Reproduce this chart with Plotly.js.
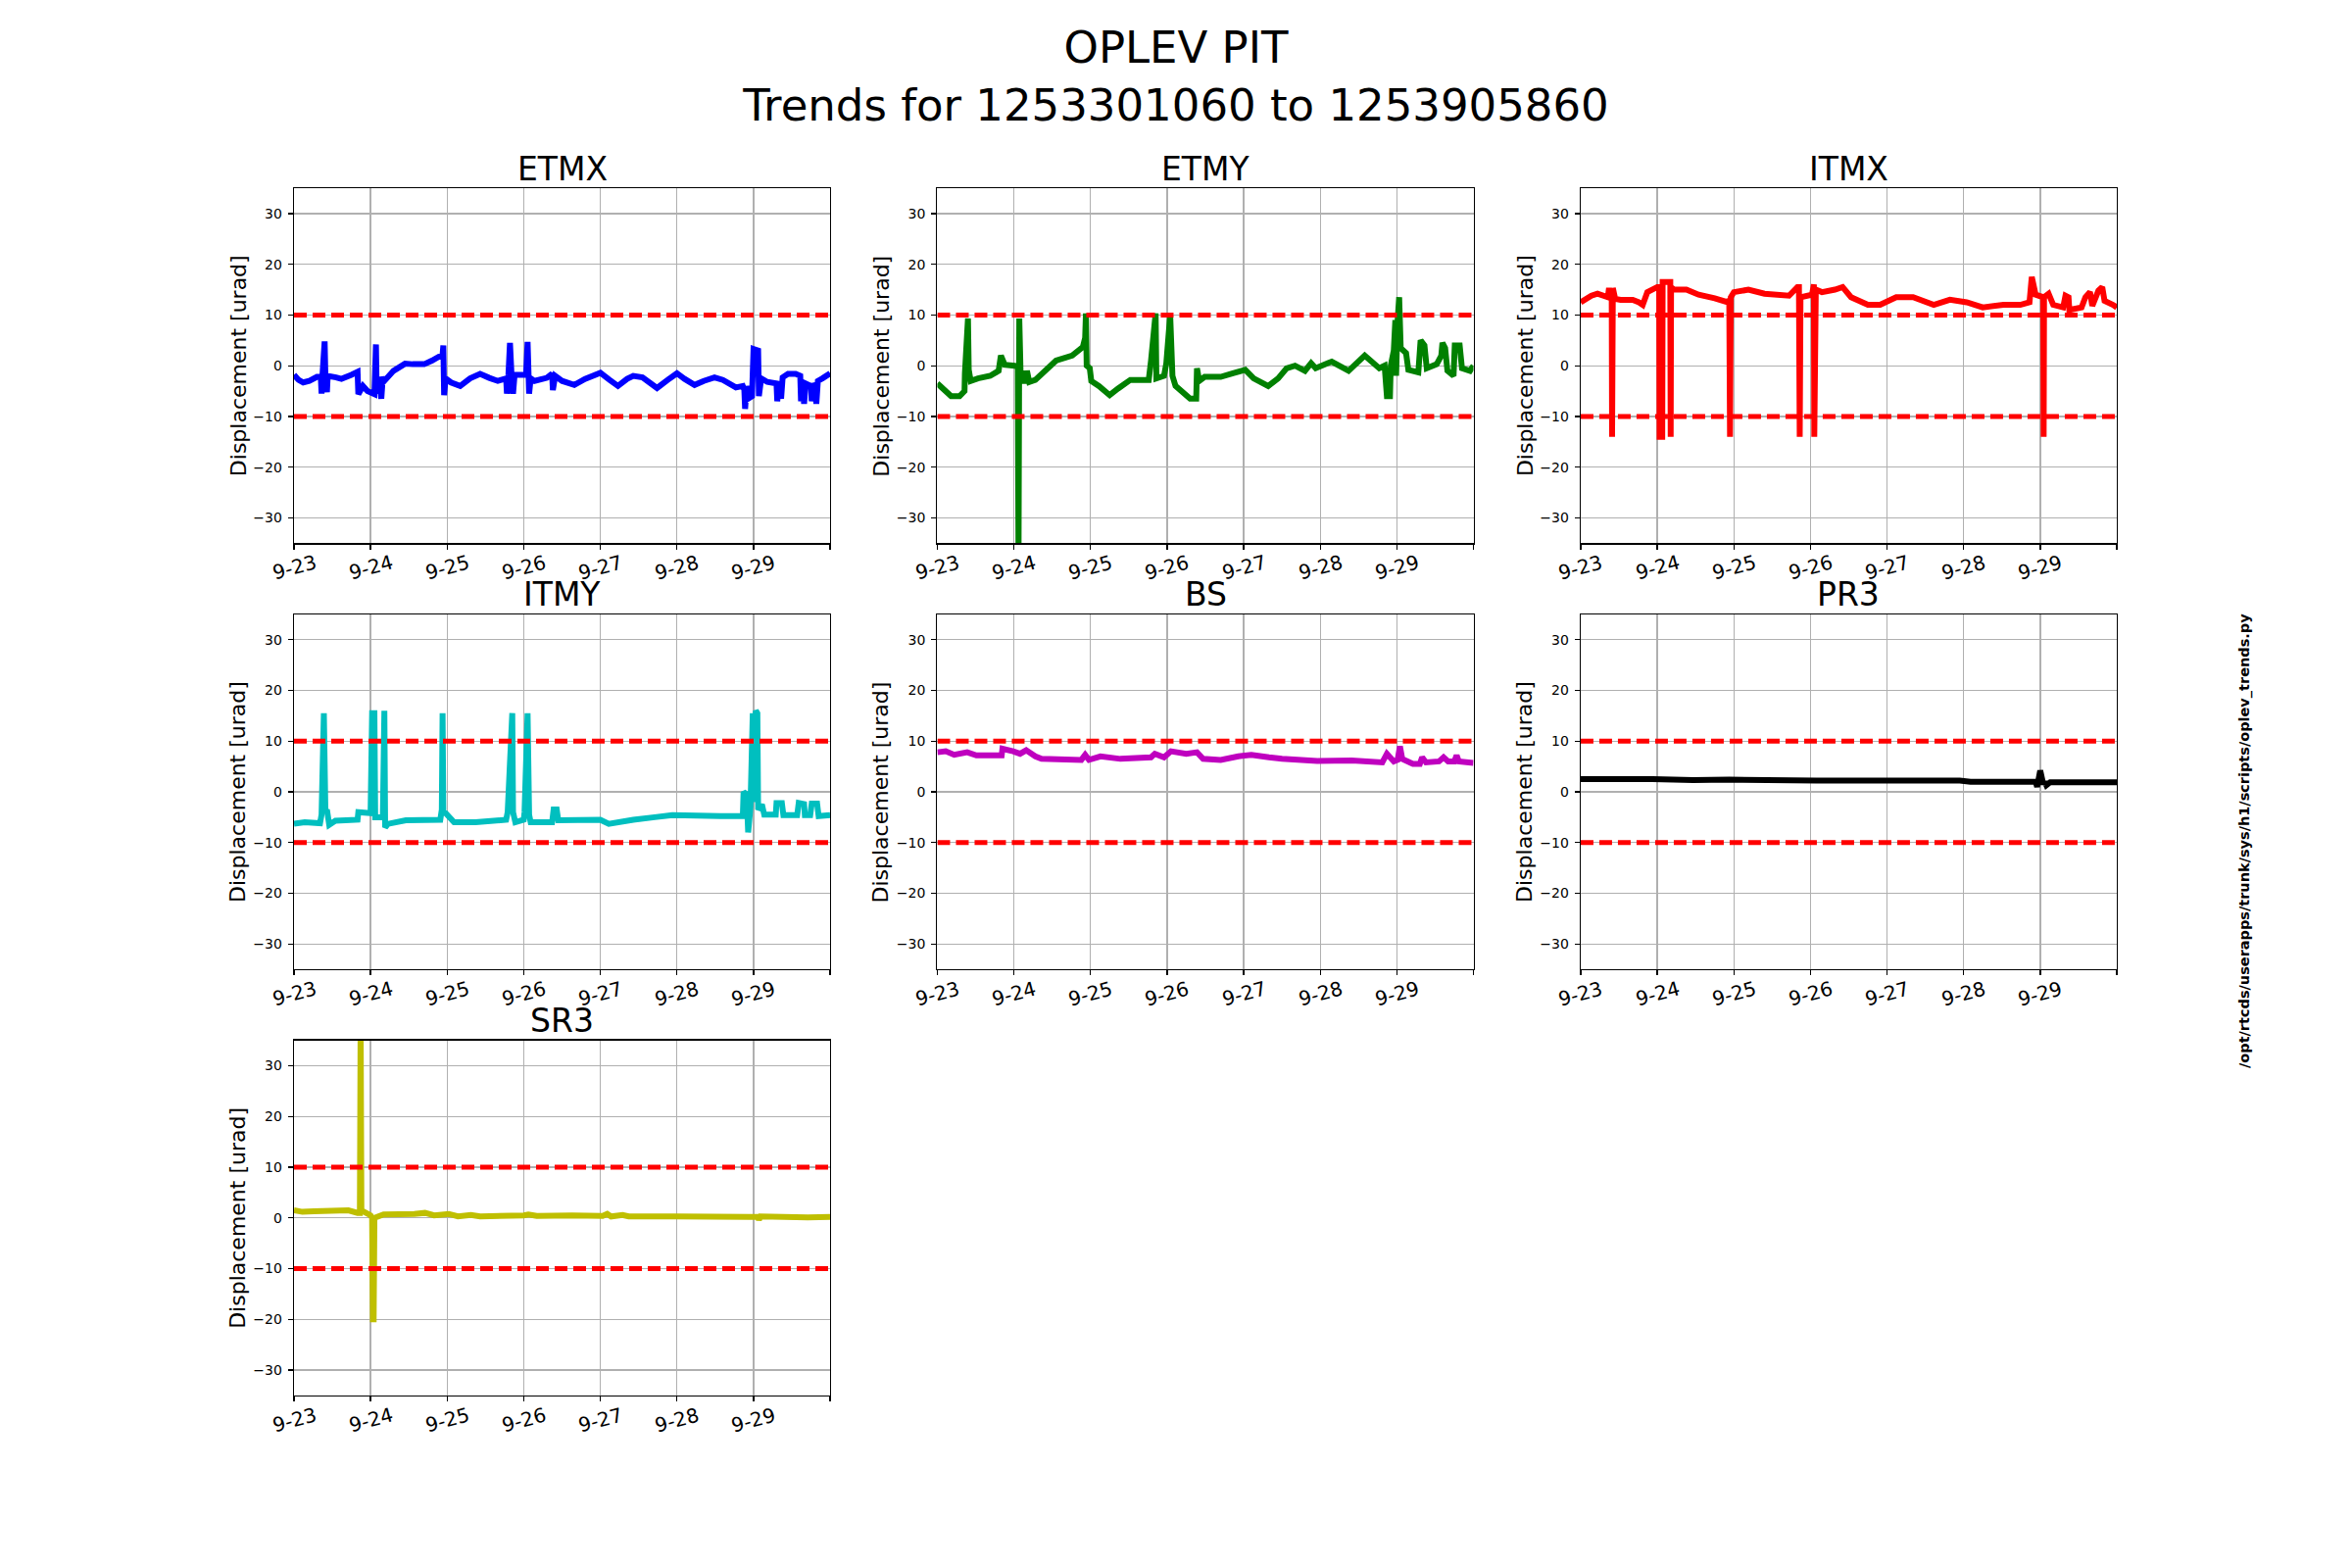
<!DOCTYPE html>
<html>
<head>
<meta charset="utf-8">
<script src="https://cdn.plot.ly/plotly-3.0.1.min.js"></script>
<style>
  body { margin: 0; background: #fff; }
  #chart { width: 2400px; height: 1600px; }
</style>
</head>
<body>
<div id="chart"></div>
<script>
// days since 9-23 00:00
var etmxDay = [0,0.06,0.12,0.2,0.3,0.35,0.36,0.37,0.4,0.41,0.43,0.44,0.55,0.62,0.75,0.83,0.84,0.9,0.96,1.05,1.07,1.08,1.11,1.14,1.16,1.18,1.3,1.45,1.55,1.7,1.8,1.94,1.95,1.96,1.98,2.05,2.17,2.3,2.43,2.55,2.66,2.77,2.78,2.8,2.82,2.84,2.86,2.88,3.03,3.05,3.07,3.09,3.14,3.3,3.37,3.38,3.41,3.5,3.66,3.8,4.0,4.12,4.23,4.35,4.43,4.55,4.74,4.88,5.0,5.1,5.23,5.35,5.49,5.6,5.77,5.86,5.88,5.89,5.91,5.93,5.98,6.0,6.06,6.07,6.1,6.18,6.3,6.31,6.33,6.36,6.38,6.45,6.55,6.61,6.62,6.64,6.66,6.68,6.75,6.76,6.78,6.8,6.82,6.84,6.9,7.0];
var etmxPit = [-1.8,-2.8,-3.3,-3.0,-2.2,-2.2,-5.5,-2.2,4.8,-2.2,-5.2,-2.0,-2.3,-2.6,-1.8,-1.2,-5.6,-4.0,-5.0,-5.6,4.2,-5.5,-2.2,-6.5,-2.2,-3.0,-1.0,0.4,0.3,0.3,1.0,2.2,4.0,-5.8,-2.5,-3.3,-4.0,-2.5,-1.6,-2.4,-3.0,-2.5,-5.5,-1.8,4.5,-1.8,-5.5,-1.8,-1.8,4.7,-5.5,-2.5,-3.0,-2.4,-1.6,-4.8,-2.0,-3.0,-3.8,-2.6,-1.4,-2.8,-4.0,-2.6,-2.0,-2.3,-4.4,-2.8,-1.5,-2.6,-3.8,-3.0,-2.3,-2.8,-4.3,-4.0,-4.8,-8.5,-4.0,-6.5,-6.0,3.3,3.0,-6.0,-2.5,-3.2,-3.5,-7.0,-3.5,-6.5,-2.3,-1.6,-1.6,-2.0,-7.0,-3.5,-7.5,-3.5,-4.0,-7.0,-3.5,-4.0,-7.5,-3.0,-2.5,-1.5];

var etmyDay = [0,0.18,0.29,0.355,0.36,0.4,0.41,0.435,0.53,0.69,0.8,0.83,0.88,1.01,1.05,1.06,1.07,1.09,1.12,1.145,1.17,1.2,1.28,1.55,1.76,1.9,1.93,1.94,1.95,1.99,2.01,2.11,2.25,2.36,2.52,2.76,2.79,2.85,2.86,2.96,2.99,3.04,3.07,3.11,3.3,3.38,3.39,3.42,3.49,3.7,3.86,4.02,4.13,4.32,4.45,4.56,4.67,4.8,4.88,4.94,5.1,5.15,5.37,5.58,5.77,5.84,5.87,5.91,5.92,5.96,5.98,5.99,6.01,6.03,6.05,6.12,6.15,6.28,6.31,6.36,6.39,6.52,6.58,6.595,6.63,6.66,6.74,6.756,6.82,6.85,6.955,7.0];
var etmyPit = [-3.5,-6,-6,-5,-1.5,9.3,-0.8,-3,-2.5,-2,-1,2,0.2,0,-0.3,-40,9.3,-3.5,-1,-3.5,-1,-3.2,-2.8,1,2,3.7,5.5,10.3,0,-0.5,-3,-4,-5.8,-4.5,-2.8,-2.8,1,10.3,-2.5,-2,0.5,10,-2,-4,-6.5,-6.5,-0.5,-3,-2.2,-2.2,-1.5,-0.8,-2.5,-4,-2.5,-0.5,0,-1,0.5,-0.5,0.5,0.8,-1,2,-0.5,0,-6,-6,0,3,9,-2,9,13.5,3.5,2.5,-0.8,-1.3,5,4,-0.5,0.3,2,4.5,3.5,-1,-2,4,4,-0.5,-1,0];

var itmxDay = [0,0.14,0.22,0.355,0.37,0.39,0.405,0.41,0.42,0.45,0.52,0.68,0.76,0.81,0.87,1.0,1.025,1.03,1.065,1.07,1.11,1.17,1.175,1.18,1.22,1.38,1.54,1.75,1.92,1.94,1.95,1.96,2.0,2.19,2.4,2.72,2.83,2.85,2.86,2.87,3.02,3.045,3.05,3.07,3.15,3.32,3.42,3.53,3.75,3.91,4.12,4.34,4.61,4.82,5.04,5.25,5.52,5.74,5.86,5.89,5.94,6.04,6.045,6.05,6.11,6.17,6.3,6.33,6.37,6.38,6.54,6.59,6.65,6.68,6.76,6.81,6.84,6.95,7.0];
var itmxPit = [12.5,13.8,14.2,13.5,15.3,13.2,15.3,-14,15.3,13.2,13,13,12.5,12,14.5,15.5,15.5,-14,-14,16.5,16.5,16.5,-14,15.5,15,15,14,13.3,12.5,13,-14,13.5,14.5,15,14.2,13.8,15.5,15.5,-14,13.5,14,16,-14,15,14.5,15,15.5,13.5,12,12,13.5,13.5,12,13,12.5,11.5,12,12,12.5,17.5,14,13.5,-14,13.5,14.2,12,11.5,13.8,13.5,11,11.5,13.5,14.5,11.8,14.8,15.5,12.8,12,11.5];

var itmyDay = [0,0.14,0.34,0.36,0.39,0.41,0.43,0.46,0.54,0.83,0.84,1.0,1.02,1.05,1.06,1.16,1.18,1.19,1.23,1.46,1.91,1.93,1.94,1.95,1.98,2.09,2.37,2.77,2.79,2.85,2.86,2.89,3.0,3.01,3.05,3.07,3.09,3.37,3.39,3.43,3.45,4.0,4.11,4.43,4.71,4.94,5.57,5.86,5.87,5.91,5.93,5.96,5.99,6.0,6.03,6.05,6.06,6.11,6.14,6.29,6.3,6.37,6.39,6.57,6.59,6.66,6.67,6.74,6.76,6.83,6.85,7.0];
var itmyPit = [-6.3,-6,-6.2,-4.5,15.5,-4,-3.5,-6.5,-5.7,-5.5,-4,-4.2,15.5,15.5,-5,-5,16,-7,-6.3,-5.6,-5.5,-3.5,15.5,-4,-4.2,-6,-6,-5.5,-4,15.5,-4,-6,-5.5,-4,15.5,-4.5,-6,-6,-3.5,-3.5,-5.6,-5.5,-6.3,-5.5,-5,-4.6,-4.8,-4.8,0,-0.5,-8,-3,15.5,-2,16,15.5,-3.5,-2.5,-4.5,-4.5,-2.2,-2.2,-4.6,-4.6,-2.2,-2.4,-4.6,-4.6,-2.3,-2.3,-4.8,-4.6];

var bsDay = [0,0.11,0.22,0.39,0.51,0.84,0.85,0.99,1.08,1.16,1.28,1.36,1.88,1.93,1.98,2.13,2.39,2.79,2.84,2.96,3.05,3.25,3.39,3.47,3.7,3.93,4.1,4.33,4.5,4.96,5.41,5.81,5.87,5.96,6.01,6.04,6.07,6.21,6.3,6.33,6.38,6.55,6.61,6.67,6.75,6.78,6.81,7.0];
var bsPit = [7.8,8,7.3,7.8,7.2,7.2,8.5,8,7.5,8.2,7,6.5,6.3,7.3,6.3,7,6.5,6.8,7.5,6.8,8,7.5,7.8,6.5,6.3,7,7.3,6.8,6.5,6.1,6.2,5.8,7.5,6,6.3,9,6.5,5.5,5.5,6.8,5.8,6,6.8,6,6,7.2,6,5.7];

var pr3Day = [0,0.94,1.47,1.94,3.08,4.95,5.09,5.94,5.96,6.0,6.04,6.06,6.08,6.13,7.0];
var pr3Pit = [2.5,2.5,2.3,2.4,2.2,2.2,2.0,2.0,1.0,4.2,1.5,2.0,1.3,1.9,1.9];

var sr3Day = [0,0.11,0.26,0.71,0.83,0.86,0.87,0.88,0.94,1.0,1.02,1.03,1.04,1.05,1.17,1.57,1.71,1.83,2.02,2.14,2.31,2.43,3.0,3.06,3.17,3.63,4.03,4.09,4.14,4.29,4.37,5.0,6.06,6.07,6.09,6.71,7.0];
var sr3Pit = [1.5,1.2,1.3,1.5,1.0,1.0,40,1.5,1.0,0.5,0,-20,-20,0,0.7,0.8,1.0,0.5,0.8,0.3,0.6,0.3,0.5,0.7,0.4,0.5,0.4,0.8,0.3,0.6,0.3,0.3,0.2,-0.4,0.3,0.1,0.2];

var optics = ['ETMX', 'ETMY', 'ITMX', 'ITMY', 'BS', 'PR3', 'SR3'];
var dayLists = [etmxDay, etmyDay, itmxDay, itmyDay, bsDay, pr3Day, sr3Day];
var pitLists = [etmxPit, etmyPit, itmxPit, itmyPit, bsPit, pr3Pit, sr3Pit];
var limits = [10, -10];
var dayTicks = [0, 1, 2, 3, 4, 5, 6, 7];
var dayLabels = ['9-23', '9-24', '9-25', '9-26', '9-27', '9-28', '9-29'];
var pitTicks = [-30, -20, -10, 0, 10, 20, 30];

var colors = ['#0000ff', '#008000', '#ff0000', '#00bfbf', '#bf00bf', '#000000', '#bfbf00'];

var W = 2400, H = 1600;
var font = {family: 'DejaVu Sans, sans-serif', color: '#000'};

// matplotlib-style subplot grid: left .125, right .9, bottom .11, top .88, spacing .2
var gridL = 0.125, gridR = 0.9, gridB = 0.11, gridT = 0.88;
var aw = (gridR - gridL) / 3.4, ah = (gridT - gridB) / 3.4;

var data = [];
var layout = {
  width: W, height: H,
  margin: {l: 0, r: 0, t: 0, b: 0},
  paper_bgcolor: '#fff', plot_bgcolor: '#fff',
  showlegend: false,
  font: font,
  title: {
    text: 'OPLEV PIT<br>Trends for 1253301060 to 1253905860',
    x: 0.5, xanchor: 'center', y: 1 - 64 / H, yanchor: 'middle',
    font: {family: font.family, size: 45, color: '#000'}
  },
  annotations: []
};

optics.forEach(function (name, k) {
  var s = k === 0 ? '' : String(k + 1);
  var col = k % 3, row = Math.floor(k / 3);
  var x0 = gridL + col * aw * 1.2, x1 = x0 + aw;
  var y1 = gridT - row * ah * 1.2, y0 = y1 - ah;

  data.push({
    x: dayLists[k], y: pitLists[k], xaxis: 'x' + s, yaxis: 'y' + s,
    type: 'scatter', mode: 'lines',
    line: {color: colors[k], width: 6, simplify: false},
    hoverinfo: 'skip'
  });
  limits.forEach(function (lim) {
    data.push({
      x: [dayTicks[0], dayTicks[dayTicks.length - 1]], y: [lim, lim],
      xaxis: 'x' + s, yaxis: 'y' + s, type: 'scatter', mode: 'lines',
      line: {color: '#ff0000', width: 5, dash: '13px,6px'},
      hoverinfo: 'skip'
    });
  });

  layout['xaxis' + s] = {
    domain: [x0, x1], anchor: 'y' + s, range: [0, 7],
    tickmode: 'array', tickvals: dayTicks, showticklabels: false,
    ticks: 'outside', ticklen: 5, tickwidth: 1.3, tickcolor: '#000',
    showgrid: true, gridcolor: '#b0b0b0', gridwidth: 1.3,
    showline: true, mirror: true, linecolor: '#000', linewidth: 1.3,
    zeroline: false, fixedrange: true
  };
  layout['yaxis' + s] = {
    domain: [y0, y1], anchor: 'x' + s, range: [-35, 35],
    tickmode: 'array', tickvals: pitTicks,
    ticks: 'outside', ticklen: 5, tickwidth: 1.3, tickcolor: '#000',
    ticklabelstandoff: 3,
    tickfont: {family: font.family, size: 14, color: '#000'},
    showgrid: true, gridcolor: '#b0b0b0', gridwidth: 1.3,
    showline: true, mirror: true, linecolor: '#000', linewidth: 1.3,
    zeroline: false, fixedrange: true
  };

  layout.annotations.push({
    xref: 'paper', yref: 'paper', x: (x0 + x1) / 2, y: y1 + 20 / H,
    xanchor: 'center', yanchor: 'middle', showarrow: false,
    text: name, font: {family: font.family, size: 33, color: '#000'}
  });
  layout.annotations.push({
    xref: 'paper', yref: 'paper', x: x0 - 57 / W, y: (y0 + y1) / 2,
    xanchor: 'center', yanchor: 'middle', showarrow: false, textangle: -90,
    text: 'Displacement [urad]', font: {family: font.family, size: 22, color: '#000'}
  });
  // rotated day labels, centred under each tick like matplotlib
  dayLabels.forEach(function (lab, i) {
    layout.annotations.push({
      xref: 'x' + s, yref: 'paper', x: dayTicks[i], y: y0 - 25 / H,
      xanchor: 'center', yanchor: 'middle', showarrow: false, textangle: -15,
      text: lab, font: {family: font.family, size: 20, color: '#000'}
    });
  });
});

layout.annotations.push({
  xref: 'paper', yref: 'paper', x: 2290 / W, y: 1 - 858 / H,
  xanchor: 'center', yanchor: 'middle', showarrow: false, textangle: -90,
  text: '/opt/rtcds/userapps/trunk/sys/h1/scripts/oplev_trends.py',
  font: {family: font.family, size: 14.5, weight: 'bold', color: '#000'}
});

Plotly.newPlot('chart', data, layout, {displayModeBar: false, staticPlot: true});
</script>
</body>
</html>
